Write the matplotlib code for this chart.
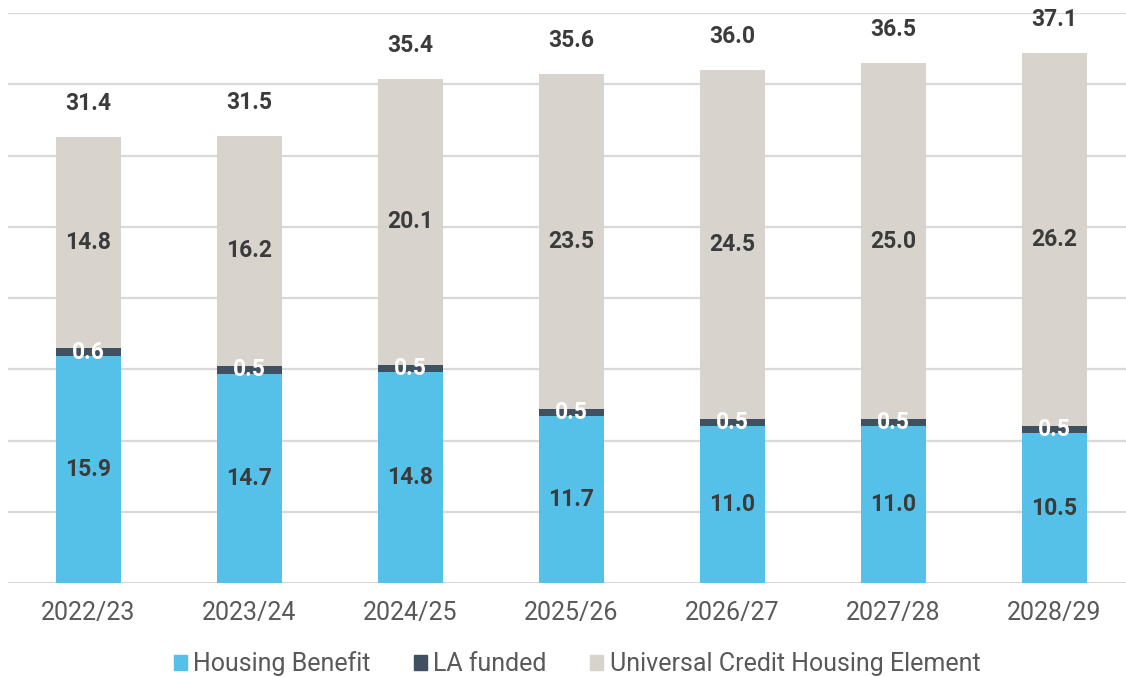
import matplotlib
matplotlib.use("Agg")
import matplotlib.pyplot as plt
from matplotlib.patches import Patch

years = ["2022/23", "2023/24", "2024/25", "2025/26", "2026/27", "2027/28", "2028/29"]
housing_benefit = [15.9, 14.7, 14.8, 11.7, 11.0, 11.0, 10.5]
la_funded = [0.6, 0.5, 0.5, 0.5, 0.5, 0.5, 0.5]
uc_housing = [14.8, 16.2, 20.1, 23.5, 24.5, 25.0, 26.2]
totals = [31.4, 31.5, 35.4, 35.6, 36.0, 36.5, 37.1]

C_HB = "#56C1E8"
C_LA = "#3F5060"
C_UC = "#D8D3CD"
C_TEXT = "#3B3B3B"
C_TICK = "#595959"
C_GRID = "#D9D9D9"

plt.rcParams["font.family"] = ["Roboto", "DejaVu Sans"]

W, H = 1126, 677
fig = plt.figure(figsize=(W / 100, H / 100), dpi=100)
ax = fig.add_axes([8 / W, 94 / H, 1127 / W, 570 / H])

x = list(range(len(years)))
bw = 0.4
ax.bar(x, housing_benefit, width=bw, color=C_HB, zorder=3)
base2 = housing_benefit
ax.bar(x, la_funded, width=bw, bottom=base2, color=C_LA, zorder=3)
base3 = [h + l for h, l in zip(housing_benefit, la_funded)]
ax.bar(x, uc_housing, width=bw, bottom=base3, color=C_UC, zorder=3)

ax.set_xlim(-0.5, len(years) - 0.5)
ax.set_ylim(0, 40)
ax.set_yticks(range(0, 41, 5))
ax.yaxis.grid(True, color=C_GRID, linewidth=1.6, zorder=0)
ax.tick_params(axis="y", left=False, labelleft=False)
ax.tick_params(axis="x", length=0, pad=13, labelsize=18, labelcolor=C_TICK)
ax.set_xticks(x)
ax.set_xticklabels(years)
for s in ax.spines.values():
    s.set_visible(False)

fs = 16.5
for i in x:
    ax.text(i, housing_benefit[i] / 2, f"{housing_benefit[i]:.1f}", ha="center", va="center",
            fontsize=fs, fontweight="bold", color=C_TEXT, zorder=4)
    ax.text(i, base2[i] + la_funded[i] / 2, f"{la_funded[i]:.1f}", ha="center", va="center",
            fontsize=fs, fontweight="bold", color="white", zorder=4)
    ax.text(i, base3[i] + uc_housing[i] / 2, f"{uc_housing[i]:.1f}", ha="center", va="center",
            fontsize=fs, fontweight="bold", color=C_TEXT, zorder=4)
    top = base3[i] + uc_housing[i]
    ax.annotate(f"{totals[i]:.1f}", (i, top), xytext=(0, 24), textcoords="offset points",
                ha="center", va="center", fontsize=fs, fontweight="bold", color=C_TEXT,
                annotation_clip=False, zorder=4)

handles = [Patch(color=C_HB), Patch(color=C_LA), Patch(color=C_UC)]
labels = ["Housing Benefit", "LA funded", "Universal Credit Housing Element"]
fig.legend(handles, labels, loc="center", bbox_to_anchor=(577 / W, 1 - 664 / H),
           ncol=3, frameon=False, fontsize=18, handlelength=0.52, handleheight=0.52,
           handletextpad=0.25, columnspacing=1.75, labelcolor=C_TICK,
           borderpad=0, borderaxespad=0)

fig.savefig("out.png", dpi=100)
